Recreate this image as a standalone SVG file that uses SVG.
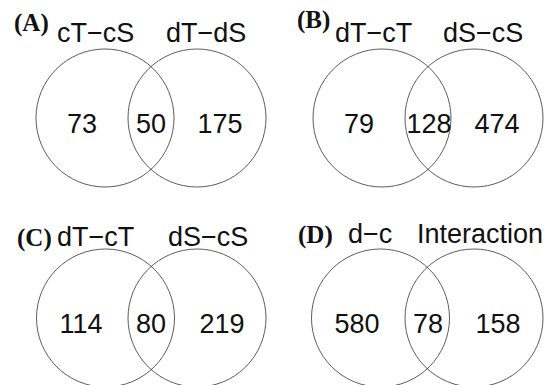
<svg xmlns="http://www.w3.org/2000/svg" width="555" height="385" viewBox="0 0 555 385">
<style>
.c{fill:none;stroke:#333;stroke-width:0.8}
.n{font-family:"Liberation Sans",Arial,sans-serif;font-size:27px;fill:#111;text-anchor:middle}
.t{font-family:"Liberation Sans",Arial,sans-serif;font-size:27px;fill:#111}
.p{font-family:"Liberation Serif","Times New Roman",serif;font-size:25px;font-weight:bold;fill:#111}
</style>
<rect width="555" height="385" fill="#fff"/>
<g id="panelA">
<text class="p" x="14" y="31">(A)</text>
<text class="t" x="57" y="42">cT−cS</text>
<text class="t" x="166" y="42">dT−dS</text>
<circle class="c" cx="105" cy="118" r="69"/>
<circle class="c" cx="197" cy="118" r="69"/>
<text class="n" x="82" y="133">73</text>
<text class="n" x="151" y="133">50</text>
<text class="n" x="220" y="133">175</text>
</g>
<g id="panelB">
<text class="p" x="297" y="28">(B)</text>
<text class="t" x="335" y="42">dT−cT</text>
<text class="t" x="443" y="42">dS−cS</text>
<circle class="c" cx="382" cy="118" r="69"/>
<circle class="c" cx="474" cy="118" r="69"/>
<text class="n" x="359" y="133">79</text>
<text class="n" x="429" y="133">128</text>
<text class="n" x="497" y="133">474</text>
</g>
<g id="panelC">
<text class="p" x="17" y="246">(C)</text>
<text class="t" x="57" y="246">dT−cT</text>
<text class="t" x="168" y="246">dS−cS</text>
<circle class="c" cx="105.5" cy="318" r="69"/>
<circle class="c" cx="197" cy="318" r="69"/>
<text class="n" x="81" y="333">114</text>
<text class="n" x="151" y="333">80</text>
<text class="n" x="222" y="333">219</text>
</g>
<g id="panelD">
<text class="p" x="298" y="243">(D)</text>
<text class="t" x="348" y="243">d−c</text>
<text class="t" x="417" y="243">Interaction</text>
<circle class="c" cx="380.5" cy="318" r="69"/>
<circle class="c" cx="474" cy="318" r="69"/>
<text class="n" x="357" y="333">580</text>
<text class="n" x="428" y="333">78</text>
<text class="n" x="498" y="333">158</text>
</g>
<g id="connectors"/>
</svg>
